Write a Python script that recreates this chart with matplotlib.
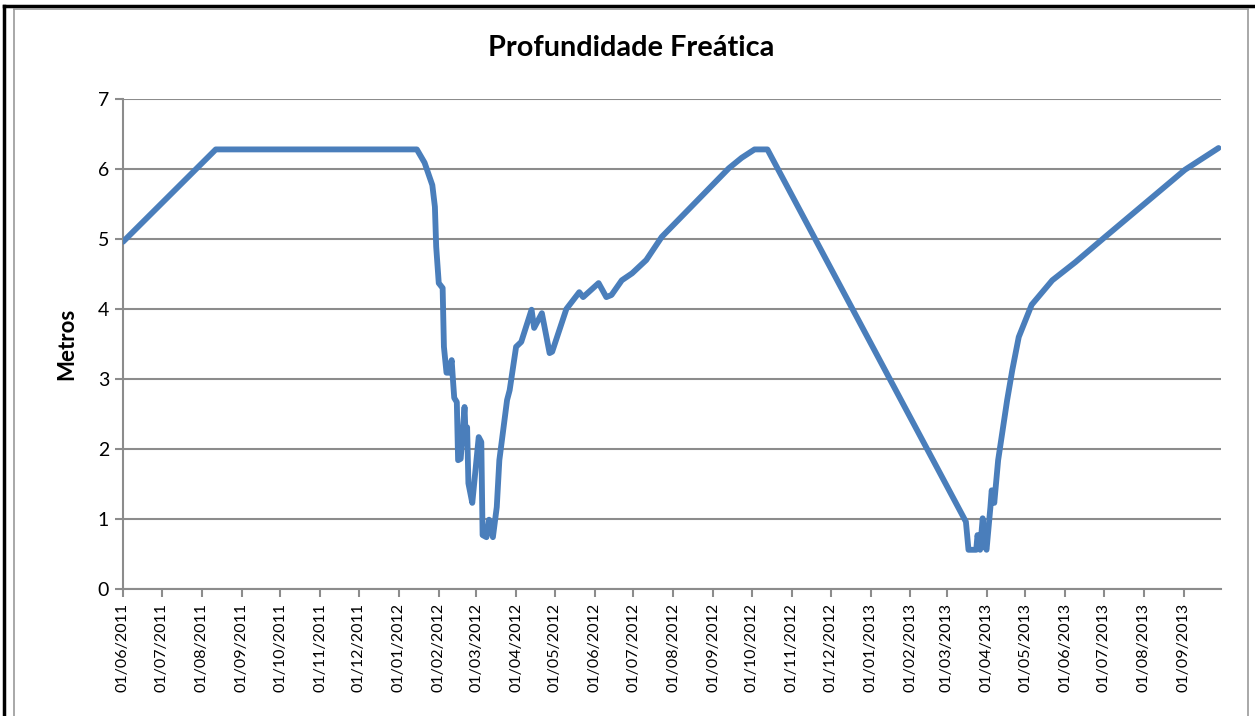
import matplotlib
matplotlib.use('Agg')
from matplotlib import pyplot as plt
import matplotlib.dates as mdates
from matplotlib.lines import Line2D
import pandas as pd

# leituras (data, profundidade em metros)
datas = ['2011-06-01', '2011-08-12', '2012-01-15', '2012-01-21', '2012-01-27',
         '2012-01-29', '2012-01-30', '2012-02-01', '2012-02-04', '2012-02-05',
         '2012-02-07', '2012-02-09', '2012-02-11', '2012-02-12', '2012-02-13',
         '2012-02-15', '2012-02-16', '2012-02-18', '2012-02-21', '2012-02-22',
         '2012-02-23', '2012-02-24', '2012-02-27', '2012-03-03', '2012-03-05',
         '2012-03-06', '2012-03-09', '2012-03-11', '2012-03-14', '2012-03-17',
         '2012-03-19', '2012-03-25', '2012-03-27', '2012-04-01', '2012-04-05',
         '2012-04-13', '2012-04-15', '2012-04-21', '2012-04-27', '2012-04-29',
         '2012-05-10', '2012-05-20', '2012-05-23', '2012-06-04', '2012-06-10',
         '2012-06-14', '2012-06-22', '2012-06-30', '2012-07-11', '2012-07-23',
         '2012-09-13', '2012-09-23', '2012-10-03', '2012-10-13', '2013-03-16',
         '2013-03-18', '2013-03-24', '2013-03-25', '2013-03-27', '2013-03-29',
         '2013-03-31', '2013-04-01', '2013-04-04', '2013-04-05', '2013-04-07',
         '2013-04-10', '2013-04-17', '2013-04-21', '2013-04-26', '2013-05-06',
         '2013-05-22', '2013-06-09', '2013-07-02', '2013-09-02', '2013-09-28']
metros = [4.96, 6.28, 6.28, 6.09, 5.77,
          5.46, 4.89, 4.37, 4.30, 3.46,
          3.09, 3.09, 3.27, 2.99, 2.73,
          2.67, 1.84, 1.86, 2.60, 2.09,
          2.31, 1.51, 1.23, 2.17, 2.10,
          0.77, 0.74, 0.99, 0.74, 1.17,
          1.84, 2.70, 2.84, 3.46, 3.53,
          3.99, 3.73, 3.94, 3.37, 3.39,
          4.00, 4.24, 4.17, 4.37, 4.17,
          4.20, 4.41, 4.51, 4.70, 5.03,
          6.01, 6.16, 6.28, 6.28, 0.96,
          0.56, 0.56, 0.77, 0.56, 1.01,
          0.60, 0.56, 1.17, 1.41, 1.23,
          1.84, 2.70, 3.13, 3.60, 4.06,
          4.41, 4.67, 5.03, 5.99, 6.30]
yticks = [0, 1, 2, 3, 4, 5, 6, 7]

plt.rcParams['font.family'] = ['Lato', 'DejaVu Sans']

fig = plt.figure(figsize=(12.55, 7.16), dpi=100)
ax = fig.add_axes([0.098, 0.1774, 0.875, 0.6843])

x = pd.to_datetime(datas)
ax.plot(x, metros, color='#4A7EBB', linewidth=4.2, solid_joinstyle='round',
        solid_capstyle='round', zorder=3)

ax.set_ylim(0, 7)
ax.set_yticks(yticks)
ax.set_xlim(pd.Timestamp('2011-06-01'), pd.Timestamp('2013-09-30'))
ax.xaxis.set_major_locator(mdates.MonthLocator(bymonthday=1))
ax.xaxis.set_major_formatter(mdates.DateFormatter('%d/%m/%Y'))
plt.setp(ax.get_xticklabels(), rotation=90, fontsize=11.5)
plt.setp(ax.get_yticklabels(), fontsize=14)

ax.grid(axis='y', color='#8c8c8c', linewidth=1.5)
ax.set_axisbelow(True)
for s in ['top', 'right']:
    ax.spines[s].set_visible(False)
for s in ['left', 'bottom']:
    ax.spines[s].set_color('#8c8c8c')
    ax.spines[s].set_linewidth(1.5)
ax.tick_params(axis='both', color='#8c8c8c', width=1.5, length=6, pad=4)

fig.text(0.503, 1 - 48 / 716, 'Profundidade Freática', fontsize=20.8,
         fontweight='bold', ha='center', va='center')
ax.set_ylabel('Metros', fontsize=16, fontweight='bold', labelpad=15)

# moldura
W, H = 1255.0, 716.0
fig.add_artist(Line2D([4 / W, 4 / W], [0, 1 - 6 / H], color='black', linewidth=2.5,
                      transform=fig.transFigure))
fig.add_artist(Line2D([4 / W, 1], [1 - 6 / H, 1 - 6 / H], color='black', linewidth=2.5,
                      transform=fig.transFigure))
fig.add_artist(Line2D([14 / W, 14 / W], [0, 1 - 9 / H], color='#9a9a9a', linewidth=1.2,
                      transform=fig.transFigure))
fig.add_artist(Line2D([1248 / W, 1248 / W], [0, 1 - 9 / H], color='#9a9a9a', linewidth=1.2,
                      transform=fig.transFigure))
fig.add_artist(Line2D([14 / W, 1248 / W], [1 - 9 / H, 1 - 9 / H], color='#9a9a9a',
                      linewidth=1.2, transform=fig.transFigure))

fig.savefig('out.png', dpi=100)
